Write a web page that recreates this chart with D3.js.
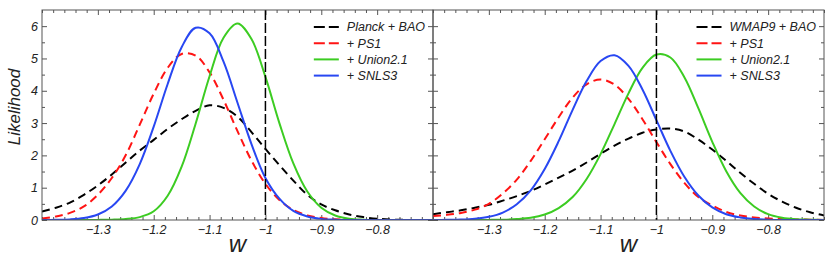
<!DOCTYPE html>
<html>
<head>
<meta charset="utf-8">
<script src="https://cdn.jsdelivr.net/npm/d3@7"></script>
<style>
  body { margin: 0; background: #fff; }
  text { font-family: "Liberation Sans", Arial, sans-serif; }
</style>
</head>
<body>
<svg id="chart" width="830" height="257"></svg>
<script>
// w grid (step 0.025) the curves were read on
const wGrid = [-1.4, -1.375, -1.35, -1.325, -1.3, -1.275, -1.25, -1.225, -1.2, -1.175,
  -1.15, -1.125, -1.1, -1.075, -1.05, -1.025, -1.0, -0.975, -0.95, -0.925,
  -0.9, -0.875, -0.85, -0.825, -0.8, -0.775, -0.75, -0.725, -0.7];

// left panel: Planck
const planckBAO = [0.26, 0.38, 0.54, 0.78, 1.07, 1.41, 1.78, 2.15, 2.48, 2.82,
  3.12, 3.38, 3.55, 3.47, 3.2, 2.72, 2.2, 1.7, 1.22, 0.78,
  0.48, 0.3, 0.17, 0.09, 0.04, 0.015, 0.005, 0, 0];
const planckPS1 = [0.05, 0.11, 0.22, 0.42, 0.78, 1.3, 2.01, 2.95, 3.91, 4.71,
  5.14, 5.09, 4.57, 3.72, 2.75, 1.84, 1.12, 0.62, 0.31, 0.14,
  0.06, 0.02, 0.01, 0, 0, 0, 0, 0, 0];
const planckUnion = [0, 0, 0, 0, 0.003, 0.01, 0.03, 0.09, 0.27, 0.75,
  1.65, 2.98, 4.45, 5.64, 6.08, 5.6, 4.43, 3.0, 1.75, 0.88,
  0.38, 0.14, 0.04, 0.01, 0, 0, 0, 0, 0];
const planckSNLS = [0, 0.005, 0.018, 0.06, 0.17, 0.42, 0.91, 1.73, 2.89, 4.21,
  5.35, 5.95, 5.78, 4.9, 3.63, 2.35, 1.3, 0.66, 0.28, 0.11,
  0.035, 0.01, 0, 0, 0, 0, 0, 0, 0];

// right panel: WMAP9
const wmapBAO = [0.18, 0.24, 0.3, 0.38, 0.47, 0.6, 0.74, 0.9, 1.1, 1.31,
  1.53, 1.78, 2.05, 2.3, 2.52, 2.7, 2.8, 2.83, 2.74, 2.49,
  2.18, 1.83, 1.46, 1.12, 0.81, 0.57, 0.38, 0.24, 0.14];
const wmapPS1 = [0.12, 0.16, 0.22, 0.32, 0.5, 0.82, 1.25, 1.83, 2.5, 3.18,
  3.79, 4.2, 4.35, 4.19, 3.75, 3.12, 2.41, 1.73, 1.15, 0.71,
  0.45, 0.25, 0.14, 0.08, 0.05, 0.03, 0.015, 0.01, 0];
const wmapUnion = [0, 0, 0, 0, 0.003, 0.01, 0.03, 0.07, 0.17, 0.37,
  0.71, 1.27, 2.04, 2.97, 3.92, 4.71, 5.12, 5.03, 4.42, 3.46,
  2.42, 1.51, 0.84, 0.42, 0.18, 0.07, 0.025, 0.01, 0];
const wmapSNLS = [0, 0.005, 0.014, 0.04, 0.1, 0.23, 0.49, 0.92, 1.58, 2.44,
  3.41, 4.3, 4.92, 5.1, 4.77, 4.04, 3.09, 2.14, 1.34, 0.76,
  0.39, 0.18, 0.08, 0.03, 0.01, 0, 0, 0, 0];

const leftNames = ["Planck + BAO", "+ PS1", "+ Union2.1", "+ SNLS3"];
const rightNames = ["WMAP9 + BAO", "+ PS1", "+ Union2.1", "+ SNLS3"];
const xTickValues = [-1.3, -1.2, -1.1, -1, -0.9, -0.8];
const yTickValues = [0, 1, 2, 3, 4, 5, 6];

const lineStyles = [
  { color: "#000000", dash: "8,5" },
  { color: "#ff1414", dash: "8,5" },
  { color: "#3ccc22", dash: null },
  { color: "#2847f2", dash: null }
];

const svg = d3.select("#chart");
const yTop = 10, yBottom = 220;
const panels = [
  { x0: 42, x1: 433, series: [planckBAO, planckPS1, planckUnion, planckSNLS], names: leftNames, yLabels: true },
  { x0: 433, x1: 824, series: [wmapBAO, wmapPS1, wmapUnion, wmapSNLS], names: rightNames, yLabels: false }
];

const y = d3.scaleLinear().domain([0, 6.5]).range([yBottom, yTop]);
const fmt = d => (d < 0 ? "\u2212" : "") + Math.abs(d);
const minorX = d3.range(-1.4, -0.699, 0.02).filter(v => !xTickValues.some(t => Math.abs(t - v) < 1e-6));
const minorY = d3.range(0.5, 6.5, 1);

panels.forEach((p, pi) => {
  const x = d3.scaleLinear().domain([-1.4, -0.7]).range([p.x0, p.x1]);
  const g = svg.append("g");

  g.append("clipPath").attr("id", "clip" + pi)
    .append("rect").attr("x", p.x0).attr("y", yTop).attr("width", p.x1 - p.x0).attr("height", yBottom - yTop);

  // axes: ticks on all four sides, pointing inward
  const addAxis = (axis, tx, ty, labels) => {
    const a = g.append("g").attr("transform", `translate(${tx},${ty})`).call(axis);
    a.select(".domain").remove();
    a.selectAll("line").attr("stroke", "#555");
    if (!labels) a.selectAll("text").remove();
    else a.selectAll("text").attr("font-size", 12.5).attr("font-style", "italic").attr("fill", "#222").attr("font-family", "Liberation Sans, Arial, sans-serif");
    return a;
  };
  addAxis(d3.axisBottom(x).tickValues(xTickValues).tickSize(-5).tickPadding(5).tickFormat(fmt), 0, yBottom, true);
  addAxis(d3.axisBottom(x).tickValues(minorX).tickSize(-3).tickFormat(""), 0, yBottom, false);
  addAxis(d3.axisTop(x).tickValues(xTickValues).tickSize(-5), 0, yTop, false);
  addAxis(d3.axisTop(x).tickValues(minorX).tickSize(-3), 0, yTop, false);
  addAxis(d3.axisLeft(y).tickValues(yTickValues).tickSize(-5).tickPadding(4).tickFormat(fmt), p.x0, 0, p.yLabels);
  addAxis(d3.axisLeft(y).tickValues(minorY).tickSize(-3), p.x0, 0, false);
  addAxis(d3.axisRight(y).tickValues(yTickValues).tickSize(-5), p.x1, 0, false);
  addAxis(d3.axisRight(y).tickValues(minorY).tickSize(-3), p.x1, 0, false);

  // curves
  const line = d3.line().x((d, i) => x(wGrid[i])).y(d => y(d)).curve(d3.curveCatmullRom.alpha(0.5));
  const curves = g.append("g").attr("clip-path", `url(#clip${pi})`);
  p.series.forEach((s, si) => {
    curves.append("path").datum(s).attr("d", line)
      .attr("fill", "none")
      .attr("stroke", lineStyles[si].color)
      .attr("stroke-width", 2)
      .attr("stroke-dasharray", lineStyles[si].dash);
  });

  // w = -1 reference line
  g.append("line").attr("x1", x(-1)).attr("x2", x(-1)).attr("y1", yTop).attr("y2", yBottom)
    .attr("stroke", "#000").attr("stroke-width", 1.5).attr("stroke-dasharray", "10,3");

  // frame
  g.append("rect").attr("x", p.x0).attr("y", yTop).attr("width", p.x1 - p.x0).attr("height", yBottom - yTop)
    .attr("fill", "none").attr("stroke", "#555").attr("stroke-width", 1);

  // legend, right-aligned in the panel
  const leg = g.append("g");
  const texts = p.names.map((n, i) => leg.append("text").attr("y", 27 + i * 16.2).attr("dy", "0.35em")
    .attr("font-size", 12.5).attr("font-style", "italic").attr("fill", "#222").text(n));
  const maxW = d3.max(texts, t => t.node().getComputedTextLength());
  const tx = p.x1 - 8 - maxW;
  texts.forEach((t, i) => {
    t.attr("x", tx);
    leg.append("line").attr("x1", tx - 33).attr("x2", tx - 8)
      .attr("y1", 27 + i * 16.2).attr("y2", 27 + i * 16.2)
      .attr("stroke", lineStyles[i].color).attr("stroke-width", 2)
      .attr("stroke-dasharray", lineStyles[i].dash ? "11,4" : null);
  });

  // x title
  g.append("text").attr("x", x(-1.05)).attr("y", 252).attr("text-anchor", "middle")
    .attr("font-family", "Liberation Serif, Times New Roman, serif").attr("font-style", "italic")
    .attr("font-size", 24).attr("fill", "#222").text("w");
});

// y title
svg.append("text").attr("transform", "translate(20,107) rotate(-90)").attr("text-anchor", "middle")
  .attr("font-size", 17).attr("font-style", "italic").attr("fill", "#222").text("Likelihood");
</script>
</body>
</html>
